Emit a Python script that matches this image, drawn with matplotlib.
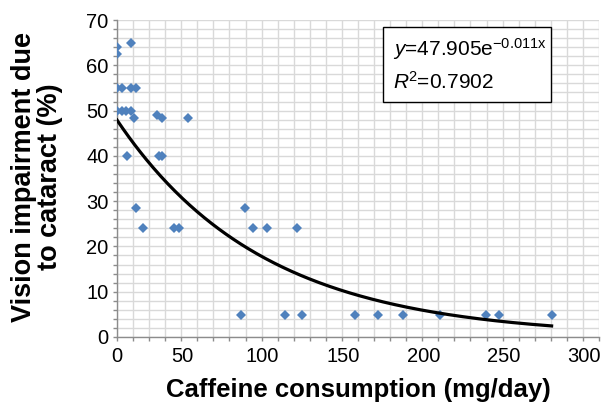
import numpy as np
import matplotlib
matplotlib.use("Agg")
import matplotlib.pyplot as plt
from matplotlib.ticker import MultipleLocator
from matplotlib.patches import Rectangle
from matplotlib.transforms import ScaledTranslation

plt.rcParams['font.family'] = ['Liberation Sans', 'DejaVu Sans']
plt.rcParams['mathtext.fontset'] = 'custom'
plt.rcParams['mathtext.rm'] = 'Liberation Sans'
plt.rcParams['mathtext.it'] = 'Liberation Sans:italic'

caffeine = [0, 0, 8.7, 0, 2.9, 8.7, 11.6, 0, 2.9, 5.6, 8.5, 10.6, 25, 27.8, 43.9,
            6, 26.3, 28.2, 11.6, 16.4, 35.5, 38.8, 79.6, 84.8, 93.5, 112.2,
            77, 104.5, 115.3, 148, 162.2, 178.2, 201, 229.6, 237.9, 270.5]
impairment = [64.1, 62.5, 65.0, 55.0, 55.0, 55.0, 55.0, 50.0, 50.0, 50.0, 50.0, 48.4, 49.0, 48.4, 48.4,
              40.0, 40.0, 40.0, 28.4, 24.1, 24.1, 24.1, 28.4, 24.0, 24.0, 24.0,
              4.9, 4.9, 4.9, 4.9, 4.9, 4.9, 4.9, 4.9, 4.9, 4.9]
fit_a = 47.905
fit_b = -0.011
x_ticks = [0, 50, 100, 150, 200, 250, 300]
y_ticks = [0, 10, 20, 30, 40, 50, 60, 70]

W, H = 605, 405
fig = plt.figure(figsize=(W/100, H/100), dpi=100)
ax = fig.add_axes([117/W, 1-337/H, (599-117)/W, (337-20)/H])

ax.set_xlim(0, 300)
ax.set_ylim(0, 70)
ax.xaxis.set_minor_locator(MultipleLocator(10))
ax.yaxis.set_minor_locator(MultipleLocator(2))
ax.set_xticks(x_ticks)
ax.set_yticks(y_ticks)
ax.grid(which='both', color='#d9d9d9', linewidth=1.0)
ax.set_axisbelow(True)
for s in ['top', 'right']:
    ax.spines[s].set_visible(False)
for s in ['left', 'bottom']:
    ax.spines[s].set_color('#8c8c8c')
    ax.spines[s].set_linewidth(1.0)
ax.tick_params(which='both', direction='out', color='#8c8c8c', length=3, width=1)
ax.tick_params(which='major', labelsize=14.5, pad=3)
ax.tick_params(axis='x', which='major', pad=4)

# Excel-style label offset (labels sit slightly left of their ticks)
for i, lbl in enumerate(ax.get_xticklabels()):
    if i > 0:
        lbl.set_transform(lbl.get_transform() + ScaledTranslation(-15/100, 0, fig.dpi_scale_trans))

ax.plot(caffeine, impairment, linestyle='none', marker='D', markersize=5,
        color='#4f81bd', markeredgewidth=0, zorder=3)

xf = np.linspace(0, max(caffeine), 300)
ax.plot(xf, fit_a*np.exp(fit_b*xf), color='black', linewidth=2.3, zorder=4)

ax.set_xlabel('Caffeine consumption (mg/day)', fontsize=18.5, fontweight='bold', labelpad=9)
fig.text(37.5/W, 1-176.5/H, 'Vision impairment due\nto cataract (%)', fontsize=19.5,
         fontweight='bold', rotation=90, ha='center', va='center', linespacing=1.0,
         multialignment='center')

box = Rectangle((383.3/W, 1-101.7/H), (550.7-383.3)/W, (101.7-27.3)/H,
                transform=fig.transFigure, facecolor='white', edgecolor='black',
                linewidth=1.0, zorder=5, clip_on=False)
ax.add_patch(box)
ax.text(392.7/W, 1-49/H, r'$\it{y}$=47.905e$^{\mathregular{-0.011x}}$', transform=fig.transFigure,
        fontsize=15, va='center', ha='left', zorder=10)
ax.text(392.7/W, 1-82/H, r'$\it{R}$$^{\mathregular{2}}$=0.7902', transform=fig.transFigure,
        fontsize=15, va='center', ha='left', zorder=10)

fig.savefig('out.png', dpi=100)
